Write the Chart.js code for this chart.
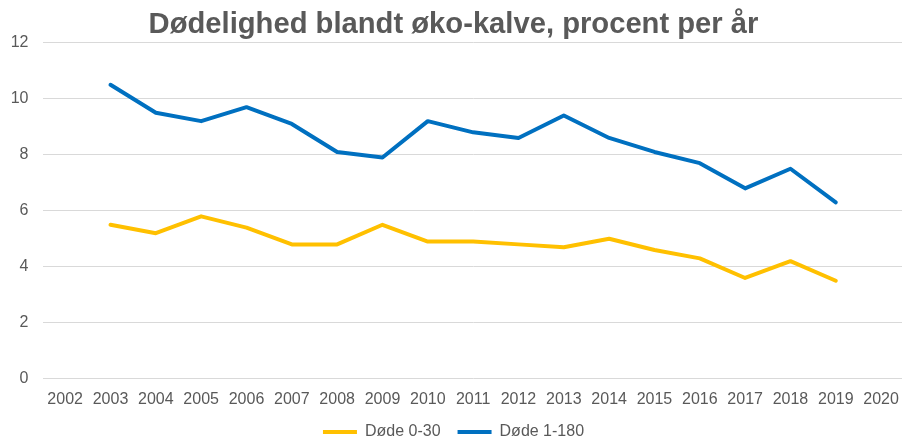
<!DOCTYPE html>
<html>
<head>
<meta charset="utf-8">
<script src="https://cdn.jsdelivr.net/npm/chart.js@4/dist/chart.umd.min.js"></script>
<style>
  html, body { margin: 0; padding: 0; background: #ffffff; overflow: hidden; }
  #wrap { width: 902px; height: 441px; overflow: hidden; position: relative; }
  canvas { display: block; }
</style>
</head>
<body>
<div id="wrap"><canvas id="c" width="910" height="450"></canvas></div>
<script>
const years = ["2002","2003","2004","2005","2006","2007","2008","2009","2010","2011","2012","2013","2014","2015","2016","2017","2018","2019","2020"];
const dode0_30 = [null, 5.5, 5.2, 5.8, 5.4, 4.8, 4.8, 5.5, 4.9, 4.9, 4.8, 4.7, 5.0, 4.6, 4.3, 3.6, 4.2, 3.5, null];
const dode1_180 = [null, 10.5, 9.5, 9.2, 9.7, 9.1, 8.1, 7.9, 9.2, 8.8, 8.6, 9.4, 8.6, 8.1, 7.7, 6.8, 7.5, 6.3, null];
const seriesNames = ["Døde 0-30", "Døde 1-180"];
const titleText = "Dødelighed blandt øko-kalve, procent per år";

const textColor = "#595959";
const fontFamily = "'Liberation Sans', Arial, sans-serif";

new Chart(document.getElementById("c"), {
  type: "line",
  data: {
    labels: years,
    datasets: [
      {
        label: seriesNames[0],
        data: dode0_30,
        borderColor: "#FFC000",
        backgroundColor: "#FFC000",
        borderWidth: 4,
        pointRadius: 0,
        pointHoverRadius: 0,
        tension: 0,
        borderCapStyle: "round",
        borderJoinStyle: "round",
        spanGaps: false
      },
      {
        label: seriesNames[1],
        data: dode1_180,
        borderColor: "#0070C0",
        backgroundColor: "#0070C0",
        borderWidth: 4,
        pointRadius: 0,
        pointHoverRadius: 0,
        tension: 0,
        borderCapStyle: "round",
        borderJoinStyle: "round",
        spanGaps: false
      }
    ]
  },
  options: {
    responsive: false,
    devicePixelRatio: 1,
    animation: false,
    layout: { padding: { left: 0, right: 3, top: 0, bottom: 0 } },
    plugins: {
      title: {
        display: true,
        text: titleText,
        color: textColor,
        font: { family: fontFamily, size: 29.2, weight: "bold" },
        padding: { top: 7.7, bottom: 0 }
      },
      legend: {
        display: true,
        position: "bottom",
        labels: {
          color: textColor,
          font: { family: fontFamily, size: 16 },
          usePointStyle: true,
          pointStyle: "line",
          pointStyleWidth: 34,
          padding: 17
        }
      },
      tooltip: { enabled: false }
    },
    scales: {
      x: {
        offset: true,
        grid: { display: false, drawTicks: false, offset: true },
        border: { display: false },
        afterFit: function (scale) { scale.height = 28.2; },
        ticks: {
          color: textColor,
          font: { family: fontFamily, size: 16 },
          padding: 11,
          maxRotation: 0,
          autoSkip: false
        }
      },
      y: {
        min: 0,
        max: 12,
        grid: { color: "#D9D9D9", lineWidth: 1, drawTicks: false },
        border: { display: false },
        afterFit: function (scale) { scale.width = 42.5; },
        ticks: {
          stepSize: 2,
          color: textColor,
          font: { family: fontFamily, size: 16 },
          padding: 14
        }
      }
    }
  }
});
</script>
</body>
</html>
